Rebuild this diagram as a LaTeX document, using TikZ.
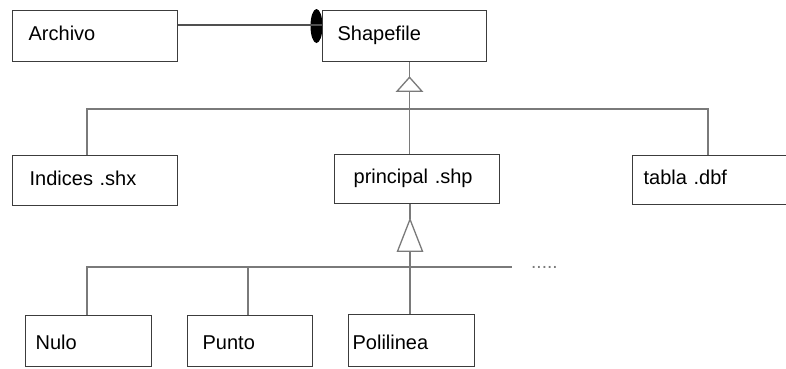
\documentclass[tikz,border=0pt]{standalone}
\usepackage{fontspec}
\newfontfamily\diagfont{Liberation Sans}
\usetikzlibrary{calc}
\definecolor{boxc}{HTML}{3C3C3C}
\definecolor{linkc}{HTML}{7A7A7A}
\definecolor{assoc}{HTML}{505050}
\tikzset{
  cls/.style={draw=boxc, line width=1.3pt, fill=white, inner sep=0pt,
    anchor=north west, align=left, minimum height=51pt,
    font=\diagfont\fontsize{20}{24}\selectfont},
  toprow/.style={cls, text height=14pt, text depth=5pt},
  botrow/.style={cls, text height=17pt, text depth=0pt},
  link/.style={draw=linkc, line width=1.7pt},
  gen/.style={draw=linkc, line width=1.3pt, fill=white, line join=miter},
}
\begin{document}
\begin{tikzpicture}[x=1pt, y=-1pt]
  \useasboundingbox[fill=white] (0,0) rectangle (786,368);

  % aggregation end of the Archivo--Shapefile association
  \fill[black] (316.5,26) ellipse [x radius=6, y radius=17];

  % classes
  \node[toprow, text width=165pt] (arch) at (12,10) {\hspace*{16pt}Archivo};
  \node[toprow, text width=164pt] (shp) at (322,10) {\hspace*{15pt}Shapefile};
  \node[toprow, text width=165pt, minimum height=50pt] (idx) at (12,155) {\hspace*{17pt}Indices .shx};
  \node[toprow, text width=165pt, minimum height=49pt] (prin) at (334,154) {\hspace*{19pt}principal .shp};
  \node[toprow, text width=160pt, minimum height=49pt] (tab) at (632,155) {\hspace*{11pt}tabla .dbf};
  \node[botrow, text width=126pt] (nulo) at (25,315) {\hspace*{10pt}Nulo};
  \node[botrow, text width=125pt] (punto) at (187,315) {\hspace*{15pt}Punto};
  \node[botrow, text width=126pt, minimum height=52pt] (poli) at (348,314) {\hspace*{4pt}Polilinea};

  % association
  \draw[draw=assoc, line width=1.3pt] (arch.east |- 0,25) -- (shp.west |- 0,25);

  % first generalisation: Shapefile <- Indices, principal, tabla
  \coordinate (t1) at ($(shp.south west)+(87.5,15)$);
  \coordinate (b1) at ($(t1)+(0,14)$);
  \coordinate (bus1) at ($(b1)+(0,17.5)$);
  \coordinate (ci) at ($(idx.north west)+(75,0)$);
  \coordinate (ct) at ($(tab.north west)+(76,0)$);
  \draw[link] (shp.south -| t1) -- (t1);
  \draw[link] (ci) |- (bus1) -| (ct);
  \draw[link] (b1) -- (bus1) -- (prin.north -| bus1);
  \draw[gen] (t1) -- ($(b1)+(-12.5,0)$) -- ($(b1)+(12.5,0)$) -- cycle;

  % second generalisation: principal <- Nulo, Punto, Polilinea, ...
  \coordinate (t2) at ($(prin.south west)+(76,15)$);
  \coordinate (b2) at ($(t2)+(0,32)$);
  \coordinate (bus2) at ($(b2)+(0,16)$);
  \coordinate (cn) at ($(nulo.north west)+(62,0)$);
  \coordinate (cp) at ($(punto.north west)+(61,0)$);
  \coordinate (bend) at ($(bus2)+(102,0)$);
  \draw[link] (prin.south -| t2) -- (t2);
  \draw[link] (cn) |- (bend);
  \draw[link] (cp) -- (cp |- bus2);
  \draw[link] (b2) -- (poli.north -| b2);
  \draw[gen] (t2) -- ($(b2)+(-12.5,0)$) -- ($(b2)+(12.5,0)$) -- cycle;

  \node[anchor=base west, inner sep=0pt, text=linkc,
        font=\diagfont\fontsize{19}{22}\selectfont] (more) at ($(bend)+(19,1)$) {.....};
\end{tikzpicture}
\end{document}
